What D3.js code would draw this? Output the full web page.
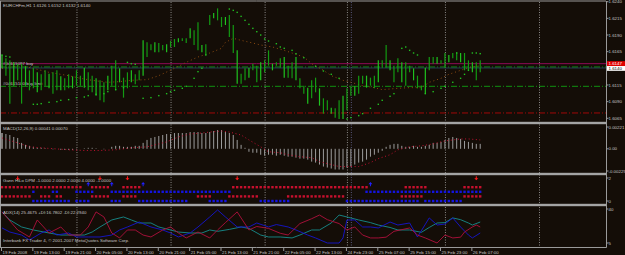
<!DOCTYPE html>
<html>
<head>
<meta charset="utf-8">
<script src="https://cdn.jsdelivr.net/npm/d3@7"></script>
<style>
body { margin: 0; background: #140d07; }
svg { display: block; }
text { font-family: "Liberation Sans", Arial, sans-serif; font-size: 4.4px; fill: #c4c4c4; }
</style>
</head>
<body>
<script>
// ---- data ----
var barHigh = [1.6160,1.6155,1.6152,1.6149,1.6147,1.6147,1.6143,1.6137,1.6140,1.6134,
  1.6131,1.6137,1.6132,1.6134,1.6137,1.6128,1.6125,1.6131,1.6128,1.6137,
  1.6129,1.6141,1.6134,1.6129,1.6125,1.6122,1.6119,1.6129,1.6144,1.6152,
  1.6140,1.6126,1.6134,1.6137,1.6131,1.6137,1.6182,1.6179,1.6176,1.6179,
  1.6178,1.6175,1.6176,1.6181,1.6184,1.6185,1.6185,1.6185,1.6200,1.6197,
  1.6209,1.6175,1.6176,1.6220,1.6223,1.6230,1.6217,1.6217,1.6220,1.6205,
  1.6167,1.6132,1.6140,1.6141,1.6147,1.6144,1.6149,1.6152,1.6167,1.6147,
  1.6149,1.6155,1.6157,1.6144,1.6149,1.6157,1.6125,1.6114,1.6111,1.6122,
  1.6126,1.6110,1.6095,1.6092,1.6081,1.6080,1.6092,1.6099,1.6110,1.6114,
  1.6113,1.6129,1.6129,1.6129,1.6126,1.6129,1.6152,1.6152,1.6175,1.6152,
  1.6144,1.6155,1.6149,1.6149,1.6144,1.6140,1.6129,1.6114,1.6141,1.6157,
  1.6157,1.6157,1.6152,1.6163,1.6160,1.6163,1.6164,1.6163,1.6163,1.6152,
  1.6149,1.6149,1.6152];
var barLow = [1.6140,1.6129,1.6087,1.6114,1.6122,1.6087,1.6114,1.6107,1.6110,1.6104,
  1.6107,1.6114,1.6110,1.6102,1.6107,1.6107,1.6107,1.6110,1.6110,1.6114,
  1.6114,1.6111,1.6107,1.6104,1.6099,1.6092,1.6089,1.6107,1.6114,1.6107,
  1.6119,1.6096,1.6110,1.6119,1.6116,1.6122,1.6129,1.6157,1.6167,1.6164,
  1.6164,1.6167,1.6164,1.6172,1.6172,1.6179,1.6181,1.6178,1.6185,1.6175,
  1.6167,1.6164,1.6160,1.6205,1.6215,1.6212,1.6202,1.6205,1.6187,1.6163,
  1.6117,1.6117,1.6122,1.6126,1.6137,1.6119,1.6122,1.6134,1.6144,1.6137,
  1.6144,1.6141,1.6126,1.6126,1.6125,1.6122,1.6110,1.6102,1.6087,1.6095,
  1.6104,1.6084,1.6072,1.6077,1.6072,1.6066,1.6064,1.6064,1.6077,1.6099,
  1.6099,1.6102,1.6117,1.6111,1.6114,1.6110,1.6119,1.6141,1.6141,1.6137,
  1.6119,1.6134,1.6119,1.6114,1.6134,1.6122,1.6110,1.6107,1.6102,1.6137,
  1.6147,1.6147,1.6147,1.6141,1.6149,1.6155,1.6152,1.6149,1.6137,1.6137,
  1.6134,1.6122,1.6134];

// brown moving average, [bar, price]
var maLine = [[0,1.6140],[5,1.6144],[8,1.6140],[12,1.6134],[17,1.6129],[20,1.6125],[23,1.6122],
  [27,1.6119],[30,1.6120],[33,1.6122],[37,1.6123],[40,1.6129],[44,1.6140],[47,1.6149],[50,1.6157],
  [53,1.6163],[56,1.6170],[57,1.6179],[59,1.6185],[61,1.6182],[64,1.6178],[66,1.6175],[69,1.6172],
  [72,1.6167],[74,1.6163],[77,1.6157],[79,1.6147],[82,1.6137],[84,1.6129],[87,1.6122],[89,1.6119],
  [92,1.6114],[95,1.6111],[97,1.6108],[101,1.6110],[104,1.6111],[107,1.6111],[109,1.6119],
  [112,1.6125],[114,1.6131],[117,1.6137],[119,1.6141],[122,1.6144]];

// parabolic SAR dots, [bar, price]
var sarDots = [[0,1.6160],[1,1.6158],[2,1.6157],
  [8,1.6086],[9,1.6086],[10,1.6087],[12,1.6089],[14,1.6090],[15,1.6092],[17,1.6093],[19,1.6096],
  [21,1.6097],[22,1.6099],[24,1.6101],[26,1.6102],[27,1.6105],[29,1.6108],[31,1.6111],
  [32,1.6149],[33,1.6147],[34,1.6146],
  [36,1.6095],[38,1.6096],[40,1.6099],[42,1.6102],[43,1.6105],[44,1.6107],[46,1.6110],[47,1.6113],
  [49,1.6125],[50,1.6135],[51,1.6140],[52,1.6160],
  [58,1.6229],[59,1.6227],[60,1.6224],[61,1.6218],[62,1.6212],[63,1.6206],[64,1.6200],[65,1.6195],
  [66,1.6190],[67,1.6184],[68,1.6181],[70,1.6177],[71,1.6172],[72,1.6170],[74,1.6167],[75,1.6162],
  [77,1.6156],[80,1.6143],[82,1.6136],[84,1.6131],[86,1.6125],
  [88,1.6064],[89,1.6066],[91,1.6069],[92,1.6072],[94,1.6080],[96,1.6086],[97,1.6092],[99,1.6098],
  [100,1.6102],[102,1.6170],[103,1.6172],[104,1.6167],[105,1.6163],[106,1.6160],
  [108,1.6102],[110,1.6105],[112,1.6110],[113,1.6113],[115,1.6119],[117,1.6125],[118,1.6131],[119,1.6137],
  [116,1.6163],[120,1.6163],[121,1.6163],[122,1.6162]];

// order / stop levels drawn across the price panel
var levelPrice = [1.6147, 1.6142, 1.6113, 1.6073];
var levelColor = ["#8c0a55", "#109010", "#109010", "#a00808"];
var levelDash = ["", "6,2,1,2", "6,2,1,2", "6,2,1,2"];
var levelText = ["#04615097 buy", "", "#04615100 buy limit", ""];
var priceTicks = [1.6240, 1.6215, 1.6190, 1.6165, 1.6115, 1.6090, 1.6065];
var lastPrice = 1.6140;
var askPrice = 1.6147;

// MACD histogram per bar
var macdHist = [.0016,.0015,.0014,.0012,.0011,.0006,.0004,.0003,.0002,.0001,
  .0001,.00005,0,-.00005,0,-.0001,-.0001,-.0001,-.0001,-.00005,
  0,.00005,.0001,.0001,.00005,0,-.00005,0,.0002,.0003,
  .0003,.0002,.0002,.0002,.0003,.0003,.0006,.0009,.0011,.0012,
  .0013,.0014,.0015,.0015,.0016,.0016,.0016,.0016,.0017,.0017,
  .0017,.0016,.0016,.0017,.0018,.0019,.0019,.0017,.0016,.0014,
  .0009,.0004,.0001,-.0003,-.0004,-.0004,-.0006,-.0007,-.0006,-.0006,
  -.0007,-.0006,-.0007,-.0008,-.0008,-.0009,-.0010,-.0010,-.0011,-.0013,
  -.0014,-.0016,-.0018,-.0019,-.0020,-.0021,-.0021,-.0021,-.0019,-.0018,
  -.0016,-.0014,-.0013,-.0011,-.0008,-.0006,-.0004,-.0002,.0002,.0004,
  .0005,.0005,.0003,.0002,.0002,.0003,.0002,.0002,.0003,.0004,
  .0006,.0006,.0007,.0009,.0011,.0012,.0011,.0010,.0008,.0007,
  .0006,.0005,.0005];
var macdSignal = [[0,.0011],[4,.0006],[7,.0002],[10,.0001],[17,-.0001],[21,-.00017],[25,-.00017],
  [29,-.0001],[33,.0001],[37,.0002],[40,.0005],[42,.0007],[45,.0012],[48,.0015],[51,.0016],
  [53,.0017],[56,.0018],[58,.0017],[61,.0014],[63,.0009],[66,.0002],[68,-.0003],[71,-.0004],
  [73,-.0006],[76,-.0008],[79,-.0009],[81,-.0013],[84,-.0016],[86,-.0018],[89,-.0018],[91,-.0018],
  [94,-.0014],[96,-.0010],[99,-.0006],[101,-.0001],[104,.0002],[107,.0003],[110,.0005],
  [113,.0008],[117,.0010],[119,.0010],[122,.0009]];

// Gann HiLo rows: [first bar, last bar] runs
var gannLevels = [1.2, 0.8, 0.4, 0];
var gannColors = ["#c8102e", "#1414e0", "#c8102e", "#1414e0"];
var gannRows = [
  [[0,20],[23,27],[31,35],[59,93],[103,108],[118,122]],
  [[8,8],[13,14],[19,23],[28,58],[93,122]],
  [[0,7],[10,12],[14,15],[23,27],[31,34],[50,53],[58,65],[73,87],[102,107],[118,122]],
  [[8,17],[19,22],[28,30],[35,47],[53,57],[66,73],[88,106],[108,117]]
];
var gannDown = [4, 25, 32, 60, 121];
var gannUp = [22, 28, 36, 94];

// ADX(14), +DI, -DI as [bar, value]
var adxMain = [[0,37],[2,28.7],[5,21.5],[8,18.4],[12,15.3],[15,13.2],[18,13.2],[21,13.2],[23,16.3],
  [25,21.5],[28,28.7],[31,31.8],[33,28.7],[35,25.6],[38,25.6],[40,21.5],[43,18.4],[45,16.3],[48,15.3],
  [51,15.3],[53,18.4],[55,17],[58,19],[61,21.5],[63,20],[66,13.2],[68,11.2],[71,11.2],[74,10.2],
  [76,13.2],[79,18.4],[81,18.4],[84,25.6],[86,33.8],[88,31.8],[91,28.7],[94,26],[96,23.5],[99,21],
  [101,18.4],[104,18.4],[107,16],[109,21],[111,25.6],[113,26],[115,30.8],[117,29],[119,25.6],
  [120,23.5],[122,26.6]];
var adxPlus = [[0,20.5],[2,16.3],[5,13.2],[7,8.1],[10,15.3],[12,18.4],[14,13.2],[17,15.3],[19,11.2],
  [22,11.2],[25,11.2],[28,13.2],[30,18.4],[32,21.5],[35,26.6],[38,21.5],[41,18.4],[43,15.3],[45,11.2],
  [48,15.3],[50,21.5],[53,31.8],[55,39],[57,31.8],[60,21.5],[63,21.5],[65,25.6],[68,21.5],[70,24],
  [73,21.5],[75,18.4],[78,13.2],[80,10.2],[83,5],[86,5],[87,10.2],[88,28.7],[90,28.7],[92,21.5],
  [94,21.5],[96,20.5],[99,26.6],[101,23.5],[104,25.6],[106,11.2],[109,30.8],[111,23.5],[113,24.5],
  [115,30.8],[117,21.5],[119,13.2],[120,10.2],[122,15.3]];
var adxMinus = [[0,37],[4,18.4],[7,11.2],[9,28.7],[12,15.3],[15,21.5],[17,13.2],[20,13.2],[22,21.5],
  [24,37],[26,31.8],[28,15.3],[30,10.2],[32,18.4],[34,18.4],[36,13.2],[38,11.2],[41,18.4],[43,21.5],
  [45,15.3],[47,10.2],[50,16.3],[53,10.2],[55,18.4],[57,26],[60,37],[63,18.4],[65,22],[68,20],
  [71,15],[73,13.2],[76,25],[79,30],[81,33.8],[83,29],[86,25],[88,18.4],[90,21.5],[92,13.2],
  [94,10.2],[96,10.2],[98,11],[100,17],[104,20.5],[106,13.2],[108,10.2],[111,5],[113,13.2],
  [115,10.2],[117,11],[118,16.3],[120,21.5],[121,23.5],[122,21.5]];

// time axis
var timeTickBars = [0,8,16,24,32,40,48,56,64,72,80,88,96,104,112,120];
var timeTickLabels = ["19 Feb 2008","19 Feb 13:00","19 Feb 21:00","20 Feb 05:00","20 Feb 13:00",
  "20 Feb 21:00","21 Feb 05:00","21 Feb 13:00","21 Feb 21:00","22 Feb 05:00","22 Feb 13:00",
  "24 Feb 23:00","25 Feb 07:00","25 Feb 15:00","25 Feb 23:00","26 Feb 07:00"];
var daySeparators = [19, 43, 67, 88, 89, 113, 137];

// ---- drawing ----
var W = 625, H = 255, axisX = 606;
var svg = d3.select("body").append("svg").attr("width", W).attr("height", H);
svg.append("rect").attr("width", W).attr("height", H).attr("fill", "#140d07");

var x = d3.scaleLinear().domain([0, 137]).range([2, 539]);
var yP = d3.scaleLinear().domain([1.6065, 1.6240]).range([118.3, 1.7]);
var yM = d3.scaleLinear().domain([-0.00225, 0.00221]).range([171, 127]);
var yG = d3.scaleLinear().domain([0, 2]).range([201, 178]);
var yA = d3.scaleLinear().domain([5, 40]).range([243, 209]);

var gray = "#9a9a9a";

// day separators
svg.selectAll(".sep").data(daySeparators).enter().append("line")
  .attr("x1", function(d) { return x(d) + 0.5; }).attr("x2", function(d) { return x(d) + 0.5; })
  .attr("y1", 2).attr("y2", 247)
  .attr("stroke", function(d, i) { return i == 4 ? "#6c6c9c" : "#a8a8a8"; })
  .attr("stroke-width", 0.8).attr("stroke-dasharray", "1,1.5");

// price panel levels
levelPrice.forEach(function(p, i) {
  svg.append("line").attr("x1", 0).attr("x2", axisX).attr("y1", yP(p)).attr("y2", yP(p))
    .attr("stroke", levelColor[i]).attr("stroke-width", 1)
    .attr("stroke-dasharray", levelDash[i]);
  if (i == 1) {
    svg.append("line").attr("x1", 0).attr("x2", axisX).attr("y1", yP(p) + 1).attr("y2", yP(p) + 1)
      .attr("stroke", "#2a4a66").attr("stroke-width", 0.8);
  }
  if (levelText[i]) {
    svg.append("text").attr("x", 3).attr("y", yP(p) + (i == 0 ? 1.3 : -1.5)).attr("fill", "#b8b8b8")
      .text(levelText[i]);
  }
});

// brown MA dotted
svg.append("path").datum(maLine)
  .attr("fill", "none").attr("stroke", "#8a4a10").attr("stroke-width", 1)
  .attr("stroke-dasharray", "1,2.9")
  .attr("d", d3.line().x(function(d) { return x(d[0]); }).y(function(d) { return yP(d[1]); }));

// price bars
svg.selectAll(".bar").data(barHigh).enter().append("line")
  .attr("x1", function(d, i) { return x(i); }).attr("x2", function(d, i) { return x(i); })
  .attr("y1", function(d) { return yP(d); })
  .attr("y2", function(d, i) { return yP(barLow[i]); })
  .attr("stroke", function(d, i) { return i % 3 == 0 ? "#1fc21f" : "#139a13"; })
  .attr("stroke-width", 1.2);

// SAR dots
svg.selectAll(".sar").data(sarDots).enter().append("rect")
  .attr("x", function(d) { return x(d[0]) - 0.7; }).attr("y", function(d) { return yP(d[1]) - 0.7; })
  .attr("width", 1.4).attr("height", 1.4).attr("fill", "#22c022");

// MACD
svg.selectAll(".mh").data(macdHist).enter().append("line")
  .attr("x1", function(d, i) { return x(i); }).attr("x2", function(d, i) { return x(i); })
  .attr("y1", yM(0)).attr("y2", function(d) { return yM(d); })
  .attr("stroke", function(d, i) { return i == 0 ? "#e8e8e8" : "#9c9c9c"; }).attr("stroke-width", 1);
svg.append("path").datum(macdSignal)
  .attr("fill", "none").attr("stroke", "#c01030").attr("stroke-width", 1)
  .attr("stroke-dasharray", "1,2.6")
  .attr("d", d3.line().x(function(d) { return x(d[0]); }).y(function(d) { return yM(d[1]); }));

// Gann HiLo
gannRows.forEach(function(runs, r) {
  var bars = [];
  runs.forEach(function(run) { for (var b = run[0]; b <= run[1]; b++) bars.push(b); });
  svg.selectAll(".g" + r).data(bars).enter().append("rect")
    .attr("x", function(d) { return x(d) - 1.2; }).attr("y", yG(gannLevels[r]) - 1.2)
    .attr("width", 2.4).attr("height", 2.4).attr("fill", gannColors[r]);
});
gannDown.forEach(function(b) {
  var cx = x(b), cy = yG(1.9);
  svg.append("path").attr("d", "M" + (cx - 0.5) + "," + (cy - 3) + "h1v2h1.5l-2,2.2l-2,-2.2h1.5z")
    .attr("fill", "#ff1a1a");
});
gannUp.forEach(function(b) {
  var cx = x(b), cy = yG(1.55);
  svg.append("path").attr("d", "M" + (cx - 0.5) + "," + (cy + 3) + "h1v-2h1.5l-2,-2.2l-2,2.2h1.5z")
    .attr("fill", "#2020ff");
});

// ADX
[[adxMain, "#168c8c"], [adxPlus, "#1515d0"], [adxMinus, "#b0103c"]].forEach(function(s) {
  svg.append("path").datum(s[0])
    .attr("fill", "none").attr("stroke", s[1]).attr("stroke-width", 0.9)
    .attr("d", d3.line().x(function(d) { return x(d[0]); }).y(function(d) { return yA(d[1]); }));
});

// frame and panel separators
svg.append("line").attr("x1", 0).attr("x2", axisX).attr("y1", 1).attr("y2", 1).attr("stroke", gray);
svg.append("line").attr("x1", 0.5).attr("x2", 0.5).attr("y1", 1).attr("y2", 247).attr("stroke", gray);
[123, 174, 205].forEach(function(yy) {
  svg.append("rect").attr("x", 0).attr("y", yy - 1.2).attr("width", axisX).attr("height", 2.4)
    .attr("fill", "#a4a4a4");
});
svg.append("line").attr("x1", 0).attr("x2", axisX + 0.5).attr("y1", 247.5).attr("y2", 247.5).attr("stroke", gray);
svg.append("line").attr("x1", axisX + 0.5).attr("x2", axisX + 0.5).attr("y1", 1).attr("y2", 247.5).attr("stroke", gray);

// right axis labels
function rightLabel(yy, txt) {
  svg.append("line").attr("x1", axisX).attr("x2", axisX + 2.5).attr("y1", yy).attr("y2", yy).attr("stroke", gray);
  svg.append("text").attr("x", axisX + 2.5).attr("y", yy + 1.6).text(txt);
}
priceTicks.forEach(function(p) { rightLabel(yP(p), d3.format(".4f")(p)); });
svg.append("rect").attr("x", axisX + 1).attr("y", yP(askPrice) - 2.5).attr("width", 18).attr("height", 5)
  .attr("fill", "#e00000");
svg.append("text").attr("x", axisX + 2.5).attr("y", yP(askPrice) + 1.6).style("fill", "#ffffff")
  .text(d3.format(".4f")(askPrice));
svg.append("rect").attr("x", axisX + 1).attr("y", yP(lastPrice) - 2.3).attr("width", 18).attr("height", 4.8)
  .attr("fill", "#ffffff");
svg.append("text").attr("x", axisX + 2.5).attr("y", yP(lastPrice) + 1.6).style("fill", "#000000")
  .text(d3.format(".4f")(lastPrice));
rightLabel(yM(0.00221), "0.00221");
rightLabel(yM(0), "0.00");
rightLabel(yM(-0.00225), "-0.00225");
rightLabel(yG(2), "2");
rightLabel(yG(0), "0");
rightLabel(yA(40), "40");
rightLabel(yA(5), "5");

// time axis
timeTickBars.forEach(function(b, i) {
  svg.append("line").attr("x1", x(b) - 0.5).attr("x2", x(b) - 0.5).attr("y1", 247.5).attr("y2", 251)
    .attr("stroke", gray);
  svg.append("text").attr("x", x(b) + 0.5).attr("y", 253.6).text(timeTickLabels[i]);
});

// panel titles
svg.append("text").attr("x", 3).attr("y", 7).text("EURCHFm,H1  1.6126 1.6152 1.6132 1.6140");
svg.append("text").attr("x", 3).attr("y", 130).text("MACD(12,26,9) 0.00041 0.00070");
svg.append("text").attr("x", 3).attr("y", 181.5).text("Gann HiLo DPM -1.0000 2.0000 2.0000 4.0000 -1.0000");
svg.append("text").attr("x", 3).attr("y", 213.5).text("ADX(14) 25.4675 +DI:16.7802 -DI:22.2940");
svg.append("text").attr("x", 3).attr("y", 242).text("Interbank FX Trader 4, \u00a9 2001-2007 MetaQuotes Software Corp.");
</script>
</body>
</html>
